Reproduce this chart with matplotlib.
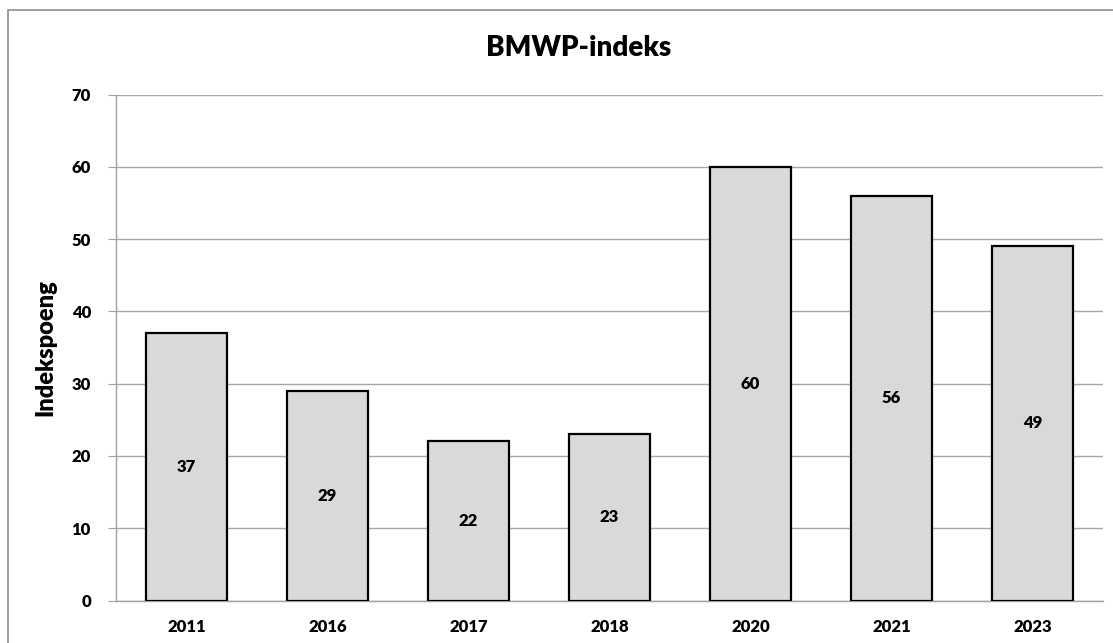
import matplotlib
matplotlib.use("Agg")
import matplotlib.pyplot as plt
from matplotlib.patches import Rectangle

years = ["2011", "2016", "2017", "2018", "2020", "2021", "2023"]
values = [37, 29, 22, 23, 60, 56, 49]
yticks = [0, 10, 20, 30, 40, 50, 60, 70]

plt.rcParams['font.family'] = ['Lato', 'DejaVu Sans']

W, H = 1113, 643
fig = plt.figure(figsize=(W / 100, H / 100), dpi=100)
ax = fig.add_axes([116 / W, 1 - 600.5 / H, (1103 - 116) / W, (600.5 - 94.5) / H])

x = list(range(len(years)))
bars = ax.bar(x, values, width=0.57, color="#d9d9d9", edgecolor="black", linewidth=1.6, zorder=3)
for xi, v in zip(x, values):
    ax.text(xi, v / 2, str(v), ha="center", va="center", fontsize=12, fontweight="heavy", zorder=4)

ax.set_xlim(-0.5, len(years) - 0.5)
ax.set_ylim(0, 70)
ax.set_yticks(yticks)
ax.set_yticklabels([str(t) for t in yticks])
ax.set_xticks(x)
ax.set_xticklabels(years)
ax.grid(axis="y", color="#a6a6a6", linewidth=1.0, zorder=0)
for s in ["top", "right"]:
    ax.spines[s].set_visible(False)
for s in ["left", "bottom"]:
    ax.spines[s].set_color("#a0a0a0")
    ax.spines[s].set_linewidth(1.0)
ax.tick_params(axis="y", length=6, color="#a0a0a0", labelsize=12, pad=12)
ax.tick_params(axis="x", length=0, labelsize=12, pad=13)
for lab in ax.get_xticklabels() + ax.get_yticklabels():
    lab.set_fontweight("heavy")

fig.text(579 / W, 1 - 48 / H, "BMWP-indeks", ha="center", va="center", fontsize=20, fontweight="heavy")
fig.text(45 / W, 1 - 348 / H, "Indekspoeng", ha="center", va="center", rotation=90, fontsize=17, fontweight="heavy")

fig.patches.append(Rectangle((8 / W, -0.05), 1.2, 1 - 10 / H + 0.05, transform=fig.transFigure,
                             fill=False, edgecolor="#8c8c8c", linewidth=1.2))

fig.savefig("out.png", dpi=100)
